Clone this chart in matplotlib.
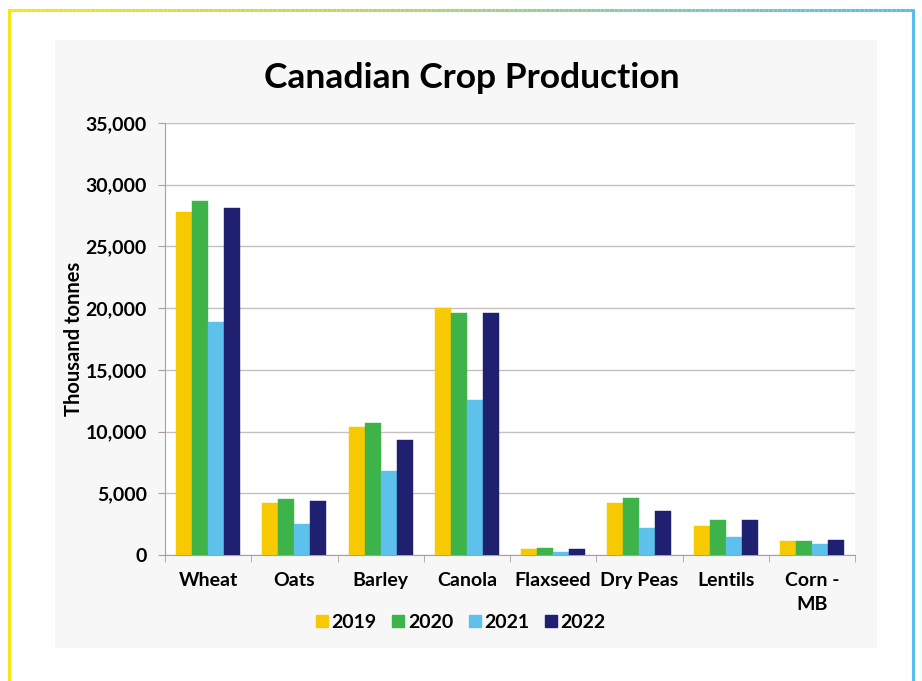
import matplotlib
matplotlib.use("Agg")
import matplotlib.pyplot as plt
import numpy as np
from matplotlib.patches import Rectangle
from matplotlib.collections import LineCollection
from matplotlib.lines import Line2D

plt.rcParams['font.family'] = ['Lato', 'DejaVu Sans']

categories = ["Wheat", "Oats", "Barley", "Canola", "Flaxseed", "Dry Peas", "Lentils", "Corn -\nMB"]
years = ["2019", "2020", "2021", "2022"]
v2019 = [27790, 4210, 10390, 19990, 460, 4190, 2350, 1130]
v2020 = [28700, 4540, 10670, 19580, 540, 4590, 2835, 1130]
v2021 = [18900, 2510, 6800, 12560, 270, 2160, 1490, 870]
v2022 = [28140, 4400, 9320, 19580, 460, 3560, 2835, 1215]
series = [v2019, v2020, v2021, v2022]
colors = ["#F7C900", "#3DB34A", "#5DC1EC", "#202070"]
yticks = [0, 5000, 10000, 15000, 20000, 25000, 30000, 35000]

W, H = 922, 681
fig = plt.figure(figsize=(W / 100, H / 100), dpi=100)
fig.patch.set_facecolor("white")

# background frame layer
bg = fig.add_axes([0, 0, 1, 1], zorder=-10)
bg.set_xlim(0, W)
bg.set_ylim(H, 0)
bg.axis("off")
bg.add_patch(Rectangle((55, 40), 822, 608, facecolor="#f7f7f7", edgecolor="none"))
xs = np.linspace(8, 914, 200)
segs = [[(xs[i], 9.5), (xs[i + 1], 9.5)] for i in range(len(xs) - 1)]
c1 = np.array(matplotlib.colors.to_rgb("#F5E61A"))
c2 = np.array(matplotlib.colors.to_rgb("#5BBDEB"))
cols = [tuple(c1 + (c2 - c1) * t) for t in np.linspace(0, 1, len(segs))]
bg.add_collection(LineCollection(segs, colors=cols, linewidths=2.2))
bg.plot([8.5, 8.5], [9, H], color="#F5E61A", lw=2.2, solid_capstyle="butt")
bg.plot([913, 913], [9, H], color="#5BBDEB", lw=2.2, solid_capstyle="butt")

ax = fig.add_axes([165 / W, 1 - 555 / H, 690 / W, 432 / H])
ax.set_facecolor("#ffffff")
n = len(categories)
x = np.arange(n)
bw = 0.185
for i, (vals, c) in enumerate(zip(series, colors)):
    ax.bar(x + (i - 1.5) * bw, vals, width=bw, color=c, label=years[i],
           edgecolor=c, linewidth=0.3, zorder=3)

ax.set_xlim(-0.5, n - 0.5)
ax.set_ylim(0, 35000)
ax.set_yticks(yticks)
ax.set_yticklabels([f"{v:,}" for v in yticks], fontsize=14, fontweight="bold")
ax.set_xticks(x)
ax.set_xticklabels(categories, fontsize=14, fontweight="bold", linespacing=1.55)
ax.set_xticks(np.arange(-0.5, n, 1), minor=True)
ax.tick_params(axis="x", which="major", length=0, pad=12)
ax.tick_params(axis="x", which="minor", length=5, color="#a8a0a0")
ax.tick_params(axis="y", length=5, color="#a8a0a0", pad=8)
ax.grid(axis="y", color="#c8bebe", lw=1.0, zorder=0)
for s in ["top", "right"]:
    ax.spines[s].set_visible(False)
ax.spines["left"].set_color("#a8a0a0")
ax.spines["bottom"].set_color("#a8a0a0")
ax.set_ylabel("Thousand tonnes", fontsize=14.5, fontweight="bold", labelpad=1)

fig.text(472 / W, 1 - 78 / H, "Canadian Crop Production", ha="center", va="center",
         fontsize=25.5, fontweight="bold")

handles = [Line2D([0], [0], marker="s", color="none", markerfacecolor=c,
                  markeredgecolor=c, markersize=8) for c in colors]
fig.legend(handles, years, loc="center", bbox_to_anchor=(459 / W, 1 - 622 / H),
           ncol=4, frameon=False, prop={"size": 14, "weight": "bold"},
           handletextpad=0.0, columnspacing=0.6, handlelength=1.0)

fig.savefig("out.png", dpi=100)
